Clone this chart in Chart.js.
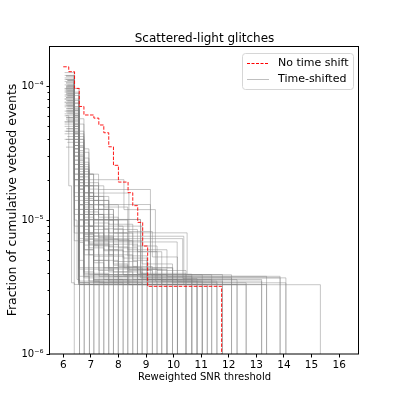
<!DOCTYPE html>
<html lang="en">
<head>
<meta charset="UTF-8">
<title>Scattered-light glitches</title>
<script src="https://cdn.jsdelivr.net/npm/chart.js@4"></script>
<style>
    body { margin: 0; background: #fff; }
    #wrap { width: 399px; height: 399px; }
</style>
</head>
<body>
<div id="wrap"><canvas id="chart" width="399" height="399"></canvas></div>
<script>
// all fractions below are in units of 1e-6
const UNIT = 1e-6;

// red dashed curve (no time shift): threshold -> fraction
const noShiftX = [6.0, 6.2, 6.41, 6.58, 6.75, 7.11, 7.29, 7.47, 7.65, 7.82, 8.0, 8.35, 8.52, 8.70, 8.88, 9.06, 11.74];
const noShiftY = [139.2, 128, 96, 70.4, 60.8, 57.6, 51.2, 44.8, 35.2, 25.6, 19.2, 16, 12.8, 9.6, 6.4, 3.2, 1];

// grey curves (time-shifted): [threshold, fraction] steps, last one drops to the axis floor
const shiftedCurves = [
    [[6.1, 60], [6.2, 18], [6.3, 3.4], [6.4, 1]],
    [[6.1, 40], [6.4, 3.3], [6.59, 1]],
    [[6.15, 55], [6.4, 10], [6.5, 3.6], [6.59, 1]],
    [[6.05, 70], [6.4, 22], [6.57, 3.5], [6.76, 1]],
    [[6.1, 35], [6.4, 7], [6.57, 3.3], [6.76, 1]],
    [[6.05, 90], [6.4, 30], [6.57, 8], [6.75, 3.8], [6.95, 1]],
    [[6.15, 48], [6.4, 14], [6.57, 3.4], [6.95, 1]],
    [[6.1, 82], [6.4, 40], [6.57, 12], [6.75, 4.1], [7.11, 1]],
    [[6.05, 65], [6.4, 18], [6.57, 3.3], [7.11, 1]],
    [[6.1, 100], [6.4, 52], [6.57, 20], [6.75, 7], [6.93, 3.5], [7.3, 1]],
    [[6.05, 75], [6.4, 26], [6.57, 6.8], [6.75, 3.3], [7.47, 1]],
    [[6.15, 110], [6.4, 60], [6.57, 24], [6.75, 10], [6.93, 3.9], [7.65, 1]],
    [[6.1, 58], [6.4, 16], [6.57, 4.3], [7.82, 1]],
    [[6.05, 95], [6.4, 44], [6.57, 15], [6.75, 6], [7.1, 3.4], [7.99, 1]],
    [[6.1, 120], [6.4, 85], [6.57, 35], [6.75, 14], [6.93, 6.55], [8.0, 3.6], [8.17, 1]],
    [[6.05, 50], [6.4, 11], [6.57, 3.8], [8.34, 1]],
    [[6.15, 85], [6.4, 36], [6.57, 13], [6.75, 7.15], [8.38, 3.3], [8.52, 1]],
    [[6.1, 105], [6.4, 58], [6.57, 26], [6.75, 11], [7.1, 5.37], [8.2, 4.4], [8.69, 1]],
    [[6.05, 44], [6.4, 9], [6.57, 3.4], [8.86, 1]],
    [[6.1, 92], [6.4, 48], [6.57, 18], [6.93, 10.1], [8.8, 4.0], [9.04, 1]],
    [[6.05, 126], [6.4, 96], [6.57, 57], [6.75, 34], [6.93, 20], [8.2, 11.96], [9.34, 3.5], [9.4, 1]],
    [[6.1, 98], [6.4, 62], [6.57, 30], [6.75, 22], [7.28, 16.9], [9.16, 3.9], [9.57, 1]],
    [[6.15, 88], [6.4, 50], [6.57, 22], [6.75, 15.9], [8.38, 4.27], [9.76, 1]],
    [[6.05, 112], [6.4, 70], [6.57, 13.05], [9.16, 4.39], [9.96, 1]],
    [[6.1, 78], [6.4, 38], [6.57, 10.08], [8.8, 3.7], [10.14, 1]],
    [[6.15, 102], [6.4, 66], [6.57, 28], [6.75, 7.57], [10.37, 3.3], [10.45, 1]],
    [[6.05, 80], [6.4, 42], [6.57, 8.02], [10.49, 3.94], [10.66, 1]],
    [[6.1, 68], [6.4, 30], [6.57, 7.26], [10.33, 3.66], [10.85, 1]],
    [[6.05, 115], [6.4, 75], [6.57, 32], [6.75, 12], [6.93, 6.86], [10.13, 3.5], [11.04, 1]],
    [[6.15, 62], [6.4, 20], [6.57, 4.41], [9.97, 3.3], [11.22, 1]],
    [[6.1, 96], [6.4, 55], [6.57, 19], [6.75, 9], [7.1, 3.6], [11.38, 1]],
    [[6.05, 54], [6.4, 15], [6.57, 3.4], [11.57, 1]],
    [[6.1, 86], [6.4, 46], [6.57, 17], [6.75, 8], [7.1, 3.92], [11.77, 1]],
    [[6.15, 72], [6.4, 28], [6.57, 9], [6.75, 3.9], [12.1, 1]],
    [[6.05, 108], [6.4, 68], [6.57, 27], [6.75, 12], [7.1, 5], [7.47, 3.59], [12.3, 1]],
    [[6.1, 46], [6.4, 12], [6.57, 3.29], [12.63, 1]],
    [[6.05, 92], [6.4, 50], [6.57, 20], [6.75, 7.8], [7.1, 3.5], [13.19, 1]],
    [[6.15, 66], [6.4, 24], [6.57, 7], [6.93, 3.3], [13.37, 1]],
    [[6.1, 118], [6.4, 88], [6.57, 40], [6.75, 18], [6.93, 8], [7.3, 3.8], [13.86, 1]],
    [[6.05, 76], [6.4, 32], [6.57, 10], [6.75, 3.7], [14.07, 1]],
    [[6.1, 100], [6.4, 56], [6.57, 22], [6.75, 9], [7.1, 3.29], [15.32, 1]],
    [[6.15, 38], [6.4, 8], [6.57, 3.3], [7.3, 1]],
    [[6.05, 84], [6.4, 34], [6.57, 11], [6.75, 4.0], [7.65, 1]],
    [[6.1, 58], [6.4, 20], [6.57, 5], [6.75, 3.5], [8.0, 1]],
    [[6.1, 90], [6.4, 60], [6.57, 30], [6.75, 19], [6.93, 14], [7.28, 9], [7.65, 6], [8.0, 3.4], [9.23, 1]],
    [[6.05, 72], [6.4, 45], [6.57, 25], [6.75, 16], [7.1, 11], [7.47, 7], [7.82, 4.6], [8.34, 3.3], [10.14, 1]],
    [[6.15, 100], [6.4, 66], [6.57, 38], [6.75, 24], [6.93, 15], [7.1, 10], [7.47, 6], [8.17, 3.9], [11.04, 1]],
    [[6.1, 64], [6.4, 40], [6.57, 20], [6.75, 13], [7.1, 8.5], [7.65, 5.5], [8.52, 3.6], [9.57, 1]],
    [[6.05, 86], [6.4, 54], [6.57, 28], [6.75, 18], [7.28, 12], [7.82, 8], [8.52, 5], [9.04, 3.5], [11.57, 1]],
    [[6.1, 56], [6.4, 34], [6.57, 17], [6.75, 10.5], [7.1, 7], [7.65, 4.4], [8.86, 1]],
    [[6.15, 78], [6.4, 48], [6.57, 24], [6.93, 15], [7.47, 10], [8.0, 6.2], [8.69, 4.0], [10.45, 1]],
    [[6.05, 120], [6.4, 90], [6.57, 52], [6.75, 32], [6.93, 22], [7.1, 15], [7.65, 10], [8.34, 6], [8.86, 3.7], [12.1, 1]],
    [[6.1, 48], [6.4, 26], [6.57, 12], [6.75, 7.5], [7.1, 4.8], [7.47, 3.3], [9.76, 1]],
    [[6.15, 68], [6.4, 42], [6.57, 22], [6.75, 14], [6.93, 9], [7.28, 5.5], [7.82, 3.8], [10.66, 1]],
    [[6.05, 96], [6.4, 64], [6.57, 36], [6.75, 22], [7.1, 14], [7.65, 9], [8.17, 5.8], [9.4, 3.6], [13.19, 1]],
    [[6.1, 82], [6.4, 52], [6.57, 26], [6.75, 16], [6.93, 11], [7.47, 7.2], [8.0, 4.5], [8.69, 3.3], [11.22, 1]],
    [[6.05, 60], [6.4, 36], [6.57, 18], [6.75, 11], [7.1, 6.5], [7.65, 4.1], [8.52, 1]],
    [[6.15, 110], [6.4, 78], [6.57, 44], [6.75, 26], [6.93, 17], [7.28, 11], [7.82, 7], [8.52, 4.5], [9.23, 3.4], [12.63, 1]],
    [[6.1, 74], [6.4, 46], [6.57, 21], [6.75, 12.5], [7.1, 8], [7.47, 5], [7.99, 3.5], [10.85, 1]],
    [[6.05, 52], [6.4, 30], [6.57, 14], [6.75, 8.5], [6.93, 5.5], [7.3, 3.4], [8.17, 1]],
    [[6.1, 88], [6.4, 58], [6.57, 31], [6.75, 20], [6.93, 13], [7.47, 8.6], [8.17, 5.2], [9.04, 3.9], [11.38, 1]],
    [[6.15, 42], [6.4, 22], [6.57, 10], [6.75, 6], [7.1, 3.6], [8.34, 1]],
    [[6.05, 102], [6.4, 70], [6.57, 40], [6.75, 25], [6.93, 16], [7.1, 12], [7.82, 8.5], [8.69, 5.8], [9.57, 3.5], [11.77, 1]],
    [[6.1, 66], [6.4, 38], [6.57, 19], [6.75, 11.5], [7.28, 7.4], [7.82, 4.7], [8.34, 3.3], [9.96, 1]],
    [[6.15, 58], [6.4, 32], [6.57, 15], [6.75, 9.5], [6.93, 6.2], [7.47, 3.9], [9.04, 1]],
    [[6.05, 80], [6.4, 50], [6.57, 23], [6.75, 14.5], [7.1, 9.5], [7.65, 6.3], [8.34, 4.2], [9.23, 1]],
    [[6.1, 112], [6.4, 80], [6.57, 46], [6.75, 29], [6.93, 19], [7.28, 13], [8.0, 9], [8.86, 6], [9.76, 3.8], [13.37, 1]],
    [[6.15, 76], [6.4, 44], [6.57, 20], [6.75, 12], [7.1, 7.6], [7.82, 4.9], [8.69, 3.6], [10.14, 1]],
    [[6.05, 46], [6.4, 24], [6.57, 11], [6.75, 6.5], [7.28, 4.2], [7.82, 1]],
    [[6.1, 94], [6.4, 62], [6.57, 33], [6.75, 21], [6.93, 14], [7.65, 9.3], [8.52, 6.4], [9.4, 4.2], [10.45, 1]],
    [[6.15, 70], [6.4, 40], [6.57, 18], [6.75, 11], [7.1, 7], [7.47, 4.4], [8.0, 3.3], [12.3, 1]],
    [[6.05, 62], [6.4, 34], [6.57, 16], [6.75, 10], [6.93, 6.7], [7.65, 4.3], [9.4, 1]],
    [[6.1, 106], [6.4, 74], [6.57, 42], [6.75, 27], [6.93, 18], [7.47, 12.5], [8.34, 8.2], [9.23, 5.3], [10.14, 3.7], [13.86, 1]],
    [[6.15, 84], [6.4, 52], [6.57, 25], [6.75, 15], [7.1, 10], [7.82, 6.6], [8.69, 4.3], [9.57, 3.3], [11.04, 1]],
    [[6.05, 54], [6.4, 28], [6.57, 13], [6.75, 8], [7.1, 5], [7.65, 3.5], [8.69, 1]],
    [[6.1, 72], [6.4, 44], [6.57, 21], [6.75, 13.5], [6.93, 9], [7.47, 5.9], [8.17, 3.9], [9.76, 1]],
    [[6.15, 92], [6.4, 60], [6.57, 29], [6.75, 18], [7.1, 12], [7.65, 8], [8.34, 5.4], [9.04, 3.6], [10.66, 1]],
    [[6.05, 40], [6.4, 20], [6.57, 9], [6.75, 5.5], [7.1, 3.5], [7.47, 1]],
    [[6.1, 98], [6.4, 66], [6.57, 35], [6.75, 23], [6.93, 15], [7.28, 10.5], [7.99, 7], [8.86, 4.7], [9.96, 3.4], [14.07, 1]],
    [[6.15, 64], [6.4, 36], [6.57, 17], [6.75, 10], [7.1, 6.4], [7.82, 4.1], [8.86, 3.3], [10.85, 1]]
];

const xTicks = [6, 7, 8, 9, 10, 11, 12, 13, 14, 15, 16];
const yMajor = [1e-6, 1e-5, 1e-4];
const yMajorLabels = ['10\u207B\u2076', '10\u207B\u2075', '10\u207B\u2074'];
const yMinorMult = [2, 3, 4, 5, 6, 7, 8, 9];

const FONT = "'DejaVu Sans', sans-serif";
const GREY = 'rgba(128,128,128,0.45)';

const datasets = [{
    label: 'No time shift',
    data: noShiftX.map((x, i) => ({ x: x, y: noShiftY[i] * UNIT })),
    borderColor: 'rgba(255,0,0,0.9)',
    borderWidth: 1,
    borderDash: [3.5, 1.5],
    stepped: true,
    pointRadius: 0,
    fill: false
}];
shiftedCurves.forEach(c => {
    datasets.push({
        label: 'Time-shifted',
        data: c.map(p => ({ x: p[0], y: p[1] * UNIT })),
        borderColor: GREY,
        borderWidth: 1,
        stepped: true,
        pointRadius: 0,
        fill: false
    });
});

// title, frame, minor ticks and legend box
const decor = {
    id: 'decor',
    afterDraw(chart) {
        const { ctx, chartArea: a, scales: { y } } = chart;
        ctx.save();
        ctx.strokeStyle = '#000';
        ctx.lineWidth = 1;
        ctx.strokeRect(a.left - 0.5, a.top + 0.5, a.right - a.left, a.bottom - a.top - 0.5);

        // minor ticks on y
        ctx.beginPath();
        yMajor.forEach(base => {
            yMinorMult.forEach(m => {
                const v = base * m;
                if (v >= y.min && v <= y.max) {
                    const py = Math.round(y.getPixelForValue(v)) + 0.5;
                    ctx.moveTo(a.left - 0.5, py);
                    ctx.lineTo(a.left - 2.5, py);
                }
            });
        });
        ctx.stroke();

        // title
        ctx.fillStyle = '#000';
        ctx.font = '12px ' + FONT;
        ctx.textAlign = 'center';
        ctx.textBaseline = 'alphabetic';
        ctx.fillText('Scattered-light glitches', (a.left + a.right) / 2, 42);

        // legend
        const lx = 242.5, ly = 53.5, lw = 111, lh = 36;
        ctx.beginPath();
        ctx.roundRect(lx, ly, lw, lh, 3);
        ctx.fillStyle = 'rgba(255,255,255,0.8)';
        ctx.fill();
        ctx.strokeStyle = '#d6d6d6';
        ctx.stroke();

        ctx.lineWidth = 1;
        ctx.strokeStyle = 'red';
        ctx.setLineDash([3, 1.5]);
        ctx.beginPath();
        ctx.moveTo(247, 63.5);
        ctx.lineTo(269, 63.5);
        ctx.stroke();
        ctx.setLineDash([]);
        ctx.strokeStyle = 'rgba(128,128,128,0.5)';
        ctx.beginPath();
        ctx.moveTo(247, 79.5);
        ctx.lineTo(269, 79.5);
        ctx.stroke();

        ctx.fillStyle = '#000';
        ctx.font = '11px ' + FONT;
        ctx.textAlign = 'left';
        ctx.textBaseline = 'middle';
        ctx.fillText('No time shift', 278, 63.5);
        ctx.fillText('Time-shifted', 278, 79.5);
        ctx.restore();
    }
};

new Chart(document.getElementById('chart'), {
    type: 'line',
    data: { datasets: datasets },
    plugins: [decor],
    options: {
        responsive: false,
        animation: false,
        events: [],
        layout: { padding: { left: 0, right: 40, top: 46, bottom: 0 } },
        plugins: {
            legend: { display: false },
            title: { display: false },
            tooltip: { enabled: false }
        },
        scales: {
            x: {
                type: 'linear',
                min: 5.52,
                max: 16.72,
                afterBuildTicks: s => { s.ticks = xTicks.map(v => ({ value: v })); },
                afterFit: s => { s.height = 45; },
                grid: { drawOnChartArea: false, drawTicks: true, tickLength: 3.5, tickColor: '#000' },
                border: { display: false },
                ticks: { color: '#000', font: { family: FONT, size: 10.5 }, padding: 1, maxRotation: 0 },
                title: {
                    display: true,
                    text: 'Reweighted SNR threshold',
                    color: '#000',
                    font: { family: FONT, size: 10 },
                    padding: { top: 0, bottom: 16 }
                }
            },
            y: {
                type: 'logarithmic',
                min: 1e-6,
                max: 1.99e-4,
                afterBuildTicks: s => { s.ticks = yMajor.map(v => ({ value: v })); },
                afterFit: s => { s.width = 50; },
                grid: { drawOnChartArea: false, drawTicks: true, tickLength: 3.5, tickColor: '#000' },
                border: { display: false },
                ticks: {
                    color: '#000',
                    font: { family: FONT, size: 10 },
                    padding: 3,
                    callback: (v, i) => yMajorLabels[i]
                },
                title: {
                    display: true,
                    text: 'Fraction of cumulative vetoed events',
                    color: '#000',
                    font: { family: FONT, size: 12.5 },
                    padding: { top: 5, bottom: 0 }
                }
            }
        }
    }
});
</script>
</body>
</html>
